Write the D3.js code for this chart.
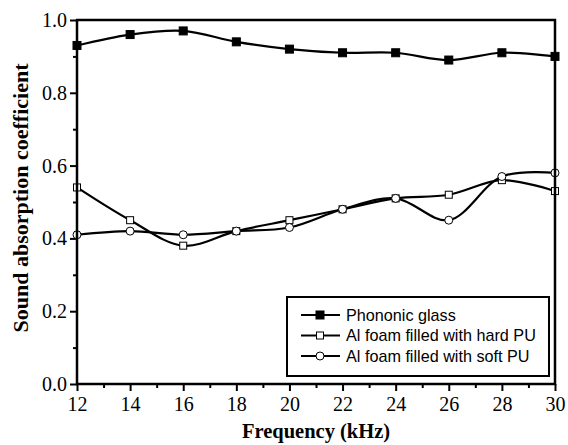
<!DOCTYPE html>
<html>
<head>
<meta charset="utf-8">
<script src="https://cdn.jsdelivr.net/npm/d3@7"></script>
<style>
  body { margin: 0; background: #fff; }
  .tick text { font-family: "Liberation Serif", "Times New Roman", serif; }
</style>
</head>
<body>
<svg id="chart"></svg>
<script>
// chart values
var freq = [12, 14, 16, 18, 20, 22, 24, 26, 28, 30];
var glass = [0.93, 0.96, 0.97, 0.94, 0.92, 0.91, 0.91, 0.89, 0.91, 0.90];
var hardPU = [0.54, 0.45, 0.38, 0.42, 0.45, 0.48, 0.51, 0.52, 0.56, 0.53];
var softPU = [0.41, 0.42, 0.41, 0.42, 0.43, 0.48, 0.51, 0.45, 0.57, 0.58];
var seriesNames = ["Phononic glass", "Al foam filled with hard PU", "Al foam filled with soft PU"];
var xTicks = [12, 14, 16, 18, 20, 22, 24, 26, 28, 30];
var yTicks = [0.0, 0.2, 0.4, 0.6, 0.8, 1.0];

var width = 568, height = 445;
var plotLeft = 77, plotRight = 555, plotTop = 20, plotBottom = 384;

var svg = d3.select("#chart")
    .attr("width", width)
    .attr("height", height);

// scales
var xScale = d3.scaleLinear().domain([12, 30]).range([plotLeft, plotRight]);
var yScale = d3.scaleLinear().domain([0, 1]).range([plotBottom, plotTop]);

// minor ticks first (outward, shorter)
var xMinor = d3.axisBottom(xScale)
    .tickValues(d3.range(13, 30, 2))
    .tickSize(4).tickFormat("").tickSizeOuter(0);
var yMinor = d3.axisLeft(yScale)
    .tickValues(d3.range(0.1, 1, 0.2))
    .tickSize(4).tickFormat("").tickSizeOuter(0);

svg.append("g").attr("transform", "translate(0," + plotBottom + ")").call(xMinor)
   .call(g => g.selectAll("line").attr("stroke-width", 2));
svg.append("g").attr("transform", "translate(" + plotLeft + ",0)").call(yMinor)
   .call(g => g.selectAll("line").attr("stroke-width", 2));

// major axes
var xAxis = d3.axisBottom(xScale)
    .tickValues(xTicks)
    .tickSize(7).tickSizeOuter(0).tickPadding(6)
    .tickFormat(d3.format("d"));
var yAxis = d3.axisLeft(yScale)
    .tickValues(yTicks)
    .tickSize(7).tickSizeOuter(0).tickPadding(3)
    .tickFormat(d3.format(".1f"));

svg.append("g")
    .attr("transform", "translate(0," + plotBottom + ")")
    .call(xAxis)
    .call(g => g.select(".domain").remove())
    .call(g => g.selectAll("line").attr("stroke-width", 2))
    .call(g => g.selectAll("text").attr("font-size", 20).attr("fill", "#000"));

svg.append("g")
    .attr("transform", "translate(" + plotLeft + ",0)")
    .call(yAxis)
    .call(g => g.select(".domain").remove())
    .call(g => g.selectAll("line").attr("stroke-width", 2))
    .call(g => g.selectAll("text").attr("font-size", 20).attr("fill", "#000"));

// lines
var line = d3.line()
    .x((d, i) => xScale(freq[i]))
    .y(d => yScale(d))
    .curve(d3.curveCatmullRom.alpha(0.5));

var allSeries = [
  { values: glass, marker: "fsquare" },
  { values: hardPU, marker: "osquare" },
  { values: softPU, marker: "circle" }
];

allSeries.forEach(function (s) {
  svg.append("path")
      .attr("d", line(s.values))
      .attr("fill", "none")
      .attr("stroke", "#000")
      .attr("stroke-width", 2.2);
});

function drawMarker(g, type, cx, cy) {
  if (type === "circle") {
    g.append("circle").attr("cx", cx).attr("cy", cy).attr("r", 4)
      .attr("fill", "#fff").attr("stroke", "#000").attr("stroke-width", 1);
  } else {
    var s = type === "fsquare" ? 8 : 7;
    g.append("rect").attr("x", cx - s / 2).attr("y", cy - s / 2)
      .attr("width", s).attr("height", s)
      .attr("fill", type === "fsquare" ? "#000" : "#fff")
      .attr("stroke", "#000").attr("stroke-width", 1);
  }
}

allSeries.forEach(function (s) {
  var g = svg.append("g");
  s.values.forEach(function (v, i) {
    drawMarker(g, s.marker, xScale(freq[i]), yScale(v));
  });
});

// frame drawn over the end markers, which the original half-hides
svg.append("rect")
    .attr("x", plotLeft).attr("y", plotTop)
    .attr("width", plotRight - plotLeft).attr("height", plotBottom - plotTop)
    .attr("fill", "none").attr("stroke", "#000").attr("stroke-width", 2.5);

// legend
var legend = svg.append("g");
legend.append("rect")
    .attr("x", 287).attr("y", 297)
    .attr("width", 262).attr("height", 79)
    .attr("fill", "#fff").attr("stroke", "#000").attr("stroke-width", 2);

allSeries.forEach(function (s, i) {
  var ly = 315 + i * 20.5;
  legend.append("line")
      .attr("x1", 301).attr("x2", 340)
      .attr("y1", ly).attr("y2", ly)
      .attr("stroke", "#000").attr("stroke-width", 2.2);
  drawMarker(legend, s.marker, 320, ly);
  legend.append("text")
      .attr("x", 346).attr("y", ly)
      .attr("dy", "0.36em")
      .attr("font-family", "Liberation Sans, Arial, sans-serif")
      .attr("font-size", 16.2)
      .text(seriesNames[i]);
});

// axis titles
svg.append("text")
    .attr("x", (plotLeft + plotRight) / 2)
    .attr("y", 438)
    .attr("text-anchor", "middle")
    .attr("font-family", "Liberation Serif, Times New Roman, serif")
    .attr("font-weight", "bold")
    .attr("font-size", 20.5)
    .text("Frequency (kHz)");

svg.append("text")
    .attr("transform", "rotate(-90)")
    .attr("x", -198)
    .attr("y", 20)
    .attr("dy", "0.35em")
    .attr("text-anchor", "middle")
    .attr("font-family", "Liberation Serif, Times New Roman, serif")
    .attr("font-weight", "bold")
    .attr("font-size", 22)
    .text("Sound absorption coefficient");
</script>
</body>
</html>
